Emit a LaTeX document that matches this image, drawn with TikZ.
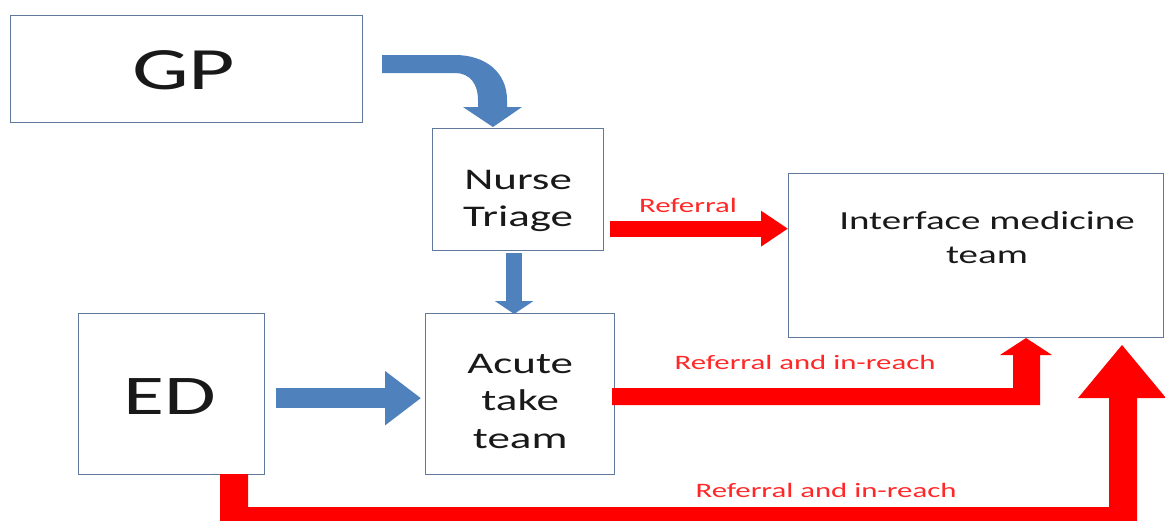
\documentclass[tikz,border=0pt]{standalone}
\usepackage{fontspec}
\setmainfont{Carlito}[FakeStretch=1.5]
\usetikzlibrary{arrows.meta,calc}
\definecolor{boxline}{RGB}{95,120,155}
\definecolor{blockblue}{RGB}{79,129,189}
\definecolor{lblred}{RGB}{255,40,40}
\definecolor{txt}{RGB}{25,25,25}
\begin{document}
\begin{tikzpicture}[x=1pt,y=-1pt,
  box/.style={draw=boxline,line width=1.3pt,inner sep=0pt,anchor=north west},
  boxtxt/.style={text=txt,align=center,inner sep=0pt},
  bluearrow/.style={draw=blockblue,line cap=butt},
  redfill/.style={fill=red,draw=none},
  bluefill/.style={fill=blockblue,draw=none},
  redlbl/.style={text=lblred,font=\fontsize{20.5}{22}\selectfont,inner sep=0pt}]
\useasboundingbox (0,0) rectangle (1165,520);
\fill[white] (0,0) rectangle (1165,520);

% boxes
\node[box,minimum width=352pt,minimum height=107pt] (gp) at (10,15) {};
\node[boxtxt,font=\fontsize{60}{60}\selectfont] (gptxt) at ([xshift=-3pt,yshift=-1pt]gp.center) {GP};
\node[box,minimum width=171pt,minimum height=122pt] (nurse) at (432,128) {};
\node[boxtxt,font=\fontsize{30}{37}\selectfont] (nursetxt) at ([yshift=-11pt]nurse.center) {Nurse\\Triage};
\node[box,minimum width=375pt,minimum height=164pt] (imt) at (788,173) {};
\node[boxtxt,font=\fontsize{26}{34}\selectfont] (imtlbl) at (987,238) {Interface medicine\\team};
\node[box,minimum width=186pt,minimum height=161pt] (ed) at (78,313) {};
\node[boxtxt,font=\fontsize{56}{56}\selectfont] (edtxt) at ([xshift=-2pt,yshift=-2pt]ed.center) {ED};
\node[box,minimum width=189pt,minimum height=161pt] (acute) at (425,313) {};
\node[boxtxt,font=\fontsize{30}{37.5}\selectfont] (acutetxt) at ([yshift=-7pt]acute.center) {Acute\\take\\team};

% blue arrows
\fill[bluefill] (382,55) -- (455,55) .. controls (485,55) and (507,72) .. (507,100)
  -- (507,107) -- (522,107) -- (493,127) -- (463,107) -- (478,107) -- (478,100)
  .. controls (478,84) and (470,73) .. (455,73) -- (382,73) -- cycle;
\draw[bluearrow,line width=16pt,-{Triangle[width=38pt,length=13pt]}]
  ([xshift=-4pt,yshift=-2pt]nurse.south) -- ([xshift=-6pt,yshift=-1pt]acute.north);
\draw[bluearrow,line width=20pt,-{Triangle[width=52pt,length=36pt]}]
  ([xshift=11pt,yshift=-4pt]ed.east) -- ([xshift=-4pt,yshift=-4pt]acute.west);

% red arrows
\draw[draw=red,line width=16pt,-{Triangle[width=34pt,length=27pt]}]
  ([xshift=6pt,yshift=-39pt]nurse.east) -- ([xshift=0pt,yshift=27pt]imt.west);
\node[redlbl] (lbl1) at (688,205) {Referral};

\fill[redfill] (612,388) -- (1013,388) -- (1013,355) -- (1000,355) -- (1026,338)
  -- (1052,355) -- (1040,355) -- (1040,405) -- (612,405) -- cycle;
\node[redlbl] (lbl2) at (805,362) {Referral and in-reach};

\fill[redfill] (220,474) -- (248,474) -- (248,507) -- (1109,507) -- (1109,398)
  -- (1078,398) -- (1122,345) -- (1166,398) -- (1137,398) -- (1137,525)
  -- (220,525) -- cycle;
\node[redlbl] (lbl3) at (826,490) {Referral and in-reach};
\end{tikzpicture}
\end{document}
